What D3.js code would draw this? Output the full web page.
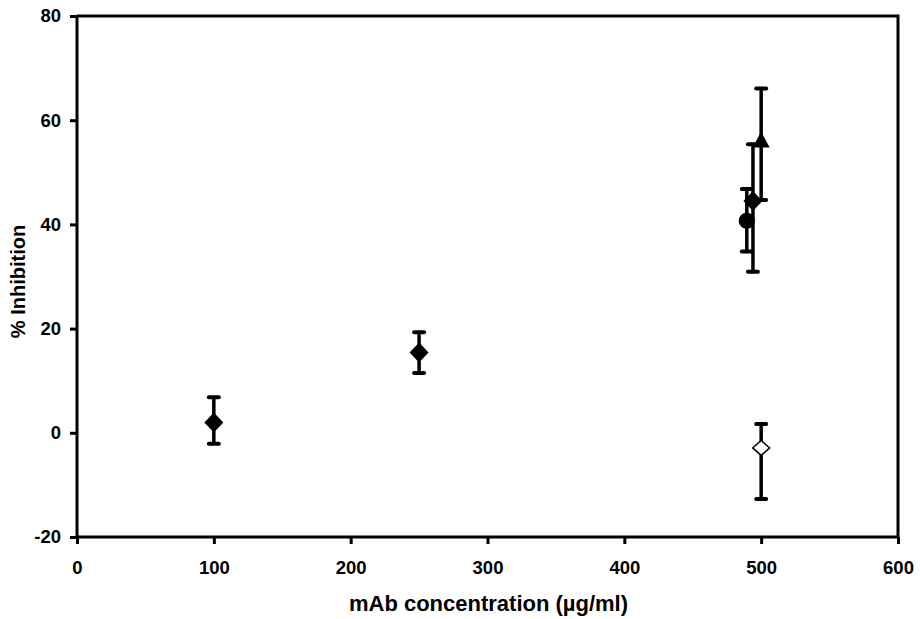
<!DOCTYPE html>
<html>
<head>
<meta charset="utf-8">
<script src="https://cdn.jsdelivr.net/npm/d3@7"></script>
<style>
  body { margin: 0; background: #fff; }
  text { font-family: Arial, "Liberation Sans", sans-serif; font-weight: bold; }
</style>
</head>
<body>
<div id="chart"></div>
<script>
var width = 920, height = 619;

// data
var xTicks = [0, 100, 200, 300, 400, 500, 600];
var yTicks = [-20, 0, 20, 40, 60, 80];
var conc   = [100, 250, 500, 489.5, 494, 500];
var inhib  = [2.0, 15.4, -2.9, 40.7, 44.5, 55.9];
var errLo  = [-2.1, 11.5, -12.7, 34.8, 30.9, 44.7];
var errHi  = [6.8, 19.3, 1.7, 46.8, 55.4, 66.1];
var shapes = ['diamond', 'diamond', 'openDiamond', 'circle', 'diamond', 'triangle'];

var points = conc.map(function(c, i) {
    return { x: c, y: inhib[i], lo: errLo[i], hi: errHi[i], shape: shapes[i] }
})

var margin = { left: 77, right: 22, top: 16, bottom: 82 };

var svg = d3.select('#chart')
    .append('svg')
    .attr('width', width)
    .attr('height', height)

var x = d3.scaleLinear().domain([0, 600]).range([margin.left, width - margin.right])
var y = d3.scaleLinear().domain([-20, 80]).range([height - margin.bottom, margin.top])

// frame top + right
svg.append('path')
    .attr('d', 'M' + x(0) + ',' + y(80) + 'H' + x(600) + 'V' + y(-20))
    .attr('fill', 'none')
    .attr('stroke', 'black')
    .attr('stroke-width', 3)

var fmt = function(d) { return String(d) }

var xAxis = svg.append('g')
    .attr('transform', 'translate(0,' + y(-20) + ')')
    .call(d3.axisBottom(x).tickValues(xTicks).tickFormat(fmt).tickSize(7).tickPadding(17))

var yAxis = svg.append('g')
    .attr('transform', 'translate(' + x(0) + ',0)')
    .call(d3.axisLeft(y).tickValues(yTicks).tickFormat(fmt).tickSize(7).tickPadding(9))

svg.selectAll('.domain').attr('stroke-width', 3)
svg.selectAll('.tick line').attr('stroke-width', 3)
svg.selectAll('.tick text').style('font-size', '18.5px').attr('fill', 'black')
xAxis.select('.domain').attr('d', 'M' + x(0) + ',0H' + x(600))
yAxis.select('.domain').attr('d', 'M0,' + y(-20) + 'V' + y(80))

svg.append('text')
    .attr('x', (x(0) + x(600)) / 2 + 1)
    .attr('y', 611)
    .attr('text-anchor', 'middle')
    .style('font-size', '22px')
    .text('mAb concentration (µg/ml)')

svg.append('text')
    .attr('transform', 'translate(25,' + ((y(80) + y(-20)) / 2 + 5) + ') rotate(-90)')
    .attr('text-anchor', 'middle')
    .style('font-size', '20px')
    .text('% Inhibition')

// error bars
var eb = svg.append('g').selectAll('g')
    .data(points)
    .enter()
    .append('g')

eb.append('line')
    .attr('x1', function(d) { return x(d.x) })
    .attr('x2', function(d) { return x(d.x) })
    .attr('y1', function(d) { return y(d.lo) })
    .attr('y2', function(d) { return y(d.hi) })
    .attr('stroke', 'black')
    .attr('stroke-width', 3.5)

eb.selectAll('.cap')
    .data(function(d) { return [{ x: d.x, v: d.lo }, { x: d.x, v: d.hi }] })
    .enter()
    .append('line')
    .attr('class', 'cap')
    .attr('x1', function(d) { return x(d.x) - 5 })
    .attr('x2', function(d) { return x(d.x) + 5 })
    .attr('y1', function(d) { return y(d.v) })
    .attr('y2', function(d) { return y(d.v) })
    .attr('stroke', 'black')
    .attr('stroke-width', 4)
    .attr('stroke-linecap', 'round')

// markers
function markerPath(shape) {
    if (shape == 'diamond') return 'M0,-10L9.5,0L0,10L-9.5,0Z'
    if (shape == 'openDiamond') return 'M0,-7.5L8.5,0L0,7.5L-8.5,0Z'
    if (shape == 'triangle') return 'M0,-10L8.5,6L-8.5,6Z'
    return d3.symbol().type(d3.symbolCircle).size(205)()
}

svg.append('g').selectAll('path')
    .data(points)
    .enter()
    .append('path')
    .attr('transform', function(d) { return 'translate(' + x(d.x) + ',' + y(d.y) + ')' })
    .attr('d', function(d) { return markerPath(d.shape) })
    .attr('fill', function(d) { return d.shape == 'openDiamond' ? 'white' : 'black' })
    .attr('stroke', 'black')
    .attr('stroke-width', function(d) { return d.shape == 'openDiamond' ? 1.5 : 0 })
</script>
</body>
</html>
